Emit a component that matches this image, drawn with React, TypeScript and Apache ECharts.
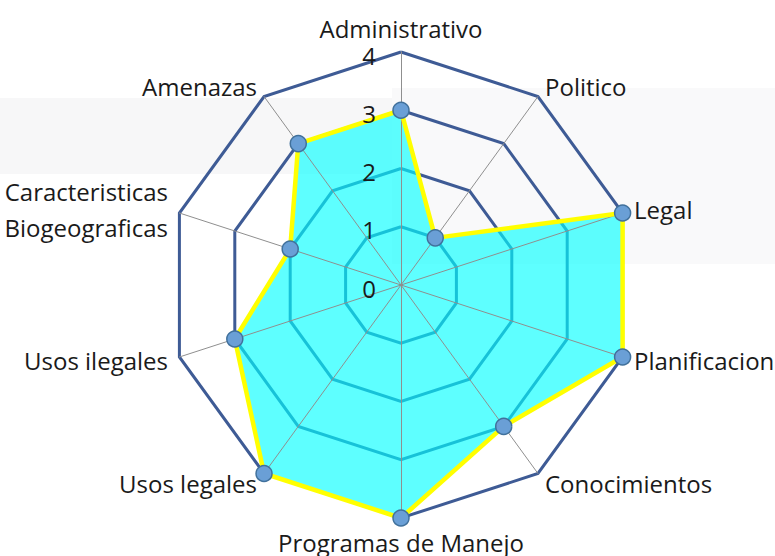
import React, { useEffect, useRef } from "react";
import * as echarts from "echarts";

// Clockwise order, starting at the top
const indicatorNames = [
  "Administrativo",
  "Politico",
  "Legal",
  "Planificacion",
  "Conocimientos",
  "Programas de Manejo",
  "Usos legales",
  "Usos ilegales",
  "Caracteristicas\nBiogeograficas",
  "Amenazas",
];
const seriesValues = [3, 1, 4, 4, 3, 4, 4, 3, 2, 3];
const axisMin = 0;
const axisMax = 4;
const axisInterval = 1;

const FONT = "Open Sans";
const FS = 24;
const TEXT = "#1a1a1a";

// ECharts radar runs counter-clockwise: reorder so it reads clockwise
function toCounterClockwise<T>(arr: T[]): T[] {
  return [arr[0], ...arr.slice(1).reverse()];
}

export default function App() {
  const ref = useRef<HTMLDivElement>(null);
  useEffect(() => {
    if (!ref.current) return;
    const chart = echarts.init(ref.current, null, { renderer: "svg" });
    const center = [401, 285];
    const radius = 233;
    const names = toCounterClockwise(indicatorNames);
    const values = toCounterClockwise(seriesValues);
    const indicators = names.map((n) => ({ name: n, min: axisMin, max: axisMax }));
    chart.setOption({
      animation: false,
      backgroundColor: "#ffffff",
      graphic: [
        {
          type: "rect",
          z: -10,
          silent: true,
          shape: { x: 0, y: 98, width: 392, height: 76 },
          style: { fill: "#f7f7f8" },
        },
        {
          type: "rect",
          z: -10,
          silent: true,
          shape: { x: 392, y: 88, width: 383, height: 176 },
          style: { fill: "#f9f9fa" },
        },
      ],
      radar: [
        {
          center,
          radius,
          startAngle: 90,
          shape: "polygon",
          splitNumber: (axisMax - axisMin) / axisInterval,
          indicator: indicators,
          nameGap: 12,
          axisName: {
            color: TEXT,
            fontFamily: FONT,
            fontSize: FS,
            formatter: (name: string) =>
              name.indexOf("\n") >= 0
                ? name
                    .split("\n")
                    .map((s) => `{two|${s}}`)
                    .join("\n")
                : `{one|${name}}`,
            rich: {
              one: { fontFamily: FONT, fontSize: FS, color: TEXT, lineHeight: 24 },
              two: { fontFamily: FONT, fontSize: FS, color: TEXT, lineHeight: 36 },
            },
          },
          splitLine: { lineStyle: { color: "#3e5b95", width: 3 } },
          splitArea: { show: false },
          axisLine: { show: false },
          axisTick: { show: false },
          axisLabel: { show: false },
          z: 0,
        },
        {
          center,
          radius,
          startAngle: 90,
          shape: "polygon",
          splitNumber: (axisMax - axisMin) / axisInterval,
          indicator: indicators.map((d) => ({ ...d, name: "" })),
          axisName: { show: false },
          splitLine: { show: false },
          splitArea: { show: false },
          axisLine: { lineStyle: { color: "#8f8f8f", width: 1 } },
          axisTick: { show: false },
          axisLabel: { show: false },
          z: 3,
        },
      ],
      polar: { center, radius },
      angleAxis: { show: false, startAngle: 90, min: 0, max: 360 },
      radiusAxis: {
        min: axisMin,
        max: axisMax,
        interval: axisInterval,
        axisLine: { show: false },
        axisTick: { show: false },
        splitLine: { show: false },
        axisLabel: {
          margin: 25,
          formatter: (v: number) => `{t|${v}}`,
          rich: {
            t: {
              fontFamily: FONT,
              fontSize: FS,
              color: TEXT,
              lineHeight: 18,
              padding: [6, 0, 0, 0],
            },
          },
        },
        z: 6,
      },
      series: [
        {
          type: "radar",
          radarIndex: 0,
          z: 2,
          symbol: "none",
          lineStyle: { width: 0, opacity: 0 },
          areaStyle: { color: "#00ffff", opacity: 0.63 },
          data: [{ value: values }],
        },
        {
          type: "radar",
          radarIndex: 1,
          z: 4,
          symbol: "circle",
          symbolSize: 16,
          lineStyle: { color: "#ffff00", width: 4.5 },
          itemStyle: { color: "#6a9fd6", borderColor: "#41719c", borderWidth: 1.5 },
          data: [{ value: values }],
        },
      ],
    });
    return () => chart.dispose();
  }, []);
  return (
    <div
      ref={ref}
      style={{ position: "fixed", left: 0, top: 0, width: 775, height: 556 }}
    />
  );
}
